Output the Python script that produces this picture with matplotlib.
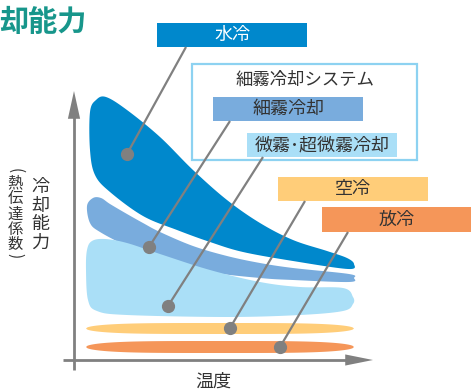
import matplotlib.pyplot as plt
import numpy as np
from matplotlib.patches import Polygon, Rectangle

plt.rcParams['font.family'] = ['Noto Sans CJK JP', 'DejaVu Sans']

# band outlines in chart units (x: temperature, y: capacity, y grows downward)
water_upper = [(90, 112), (96, 100), (106, 97), (127, 110), (160, 137), (193, 170),
               (227, 200), (260, 223), (293, 240), (327, 251), (347, 258), (354, 264)]
water_lower = [(348, 269), (293, 261), (243, 252), (210, 242), (177, 230), (143, 216),
               (110, 192), (95, 175), (90, 150)]

mist_upper = [(87, 206), (93, 198), (101, 198), (110, 204), (127, 214), (143, 223),
              (160, 232), (193, 246), (227, 256), (260, 263), (293, 268), (349, 274), (354, 278)]
mist_lower = [(349, 282), (293, 280), (260, 278), (210, 272), (160, 259), (127, 246),
              (100, 232), (90, 223)]

fine_upper = [(87, 250), (92, 241), (105, 239), (127, 243), (160, 254), (210, 270),
              (260, 282), (300, 287), (343, 288), (353, 297)]
fine_lower = [(353, 304), (343, 311), (300, 315), (227, 317), (127, 315), (97, 311),
              (88, 300), (86, 270)]

# thin lens bands: (x_start, x_end, y_center, thickness)
air_band = (86, 354, 328.5, 11)
natural_band = (86, 354, 347, 12)

labels = ['水冷', '細霧冷却', '微霧･超微霧冷却', '空冷', '放冷']
label_boxes = [(157, 23, 150, 24), (213, 97, 150, 24), (247, 133, 150, 24),
               (278, 177, 150, 24), (322, 207, 149, 25)]
label_colors = ['#0088cc', '#79acdd', '#aadff7', '#ffcd79', '#f59659']
label_text_colors = ['white', '#333333', '#333333', '#333333', '#333333']
leader_start = [(186, 47), (230, 121), (263, 157), (305, 201), (348, 232)]
leader_end = [(127, 154), (149, 247), (168, 306), (230, 328), (280, 347)]

gray = '#808080'
text_gray = '#333333'


def smooth_closed(pts, n=14):
    P = np.asarray(pts, float)
    m = len(P)
    t = np.linspace(0, 1, n, endpoint=False)[:, None]
    out = []
    for i in range(m):
        p0, p1, p2, p3 = P[i - 1], P[i], P[(i + 1) % m], P[(i + 2) % m]
        out.append(0.5 * (2 * p1 + (-p0 + p2) * t + (2 * p0 - 5 * p1 + 4 * p2 - p3) * t ** 2
                          + (-p0 + 3 * p1 - 3 * p2 + p3) * t ** 3))
    return np.vstack(out)


def lens(x0, x1, yc, h):
    t = np.linspace(-1, 1, 200)
    x = (x0 + x1) / 2 + t * (x1 - x0) / 2
    half = h / 2 * np.sqrt(np.clip(1 - np.abs(t) ** 4, 0, None))
    return np.vstack([np.column_stack([x, yc - half]),
                      np.column_stack([x[::-1], (yc + half)[::-1]])])


fig = plt.figure(figsize=(4.71, 3.90), dpi=100)
ax = fig.add_axes([0, 0, 1, 1])
ax.set_xlim(0, 471)
ax.set_ylim(390, 0)
ax.axis('off')

# axes with arrows
ax.plot([74, 74], [370, 110], color=gray, lw=2, solid_capstyle='butt')
ax.plot([63, 350], [360, 360], color=gray, lw=2, solid_capstyle='butt')
ax.annotate('', xy=(74, 91), xytext=(74, 125),
            arrowprops=dict(arrowstyle='-|>,head_length=1.0,head_width=0.22',
                            mutation_scale=20, color=gray, lw=0, shrinkA=0, shrinkB=0))
ax.annotate('', xy=(373, 360), xytext=(340, 360),
            arrowprops=dict(arrowstyle='-|>,head_length=1.0,head_width=0.2',
                            mutation_scale=20, color=gray, lw=0, shrinkA=0, shrinkB=0))

# bands
for upper, lower, col in [(water_upper, water_lower, label_colors[0]),
                          (mist_upper, mist_lower, label_colors[1]),
                          (fine_upper, fine_lower, label_colors[2])]:
    ax.add_patch(Polygon(smooth_closed(upper + lower), closed=True, fc=col, ec='none'))
for band, col in [(air_band, label_colors[3]), (natural_band, label_colors[4])]:
    ax.add_patch(Polygon(lens(*band), closed=True, fc=col, ec='none'))

# system frame
ax.add_patch(Rectangle((192, 64), 225, 96, fc='white', ec='#8dd2f1', lw=1.6))
ax.text(305, 80, '細霧冷却システム', ha='center', va='center', fontsize=12.5, color=text_gray)

# label boxes and leader lines
for lab, (x, y, w, h), col, tcol, s, e in zip(labels, label_boxes, label_colors,
                                              label_text_colors, leader_start, leader_end):
    ax.add_patch(Rectangle((x, y), w, h, fc=col, ec='none'))
    ax.text(x + w / 2, y + h / 2, lab, ha='center', va='center', fontsize=13, color=tcol)
    ax.plot([s[0], e[0]], [s[1], e[1]], color=gray, lw=1.6, solid_capstyle='butt')
    ax.plot(e[0], e[1], 'o', color=gray, ms=8.5)

# titles
ax.text(-1, 22, '却能力', ha='left', va='center', fontsize=21, fontweight='bold', color='#17968b')
ax.text(213, 382, '温度', ha='center', va='center', fontsize=13, color=text_gray)

for i, ch in enumerate('冷却能力'):
    ax.text(40, 187 + i * 18.5, ch, ha='center', va='center', fontsize=13, color=text_gray)
ax.text(15, 171, '(', ha='center', va='center', fontsize=11, rotation=-90, color=text_gray)
for i, ch in enumerate('熱伝達係数'):
    ax.text(15, 183 + i * 15.5, ch, ha='center', va='center', fontsize=11, color=text_gray)
ax.text(15, 256, ')', ha='center', va='center', fontsize=11, rotation=-90, color=text_gray)

fig.savefig('out.png', dpi=100)
